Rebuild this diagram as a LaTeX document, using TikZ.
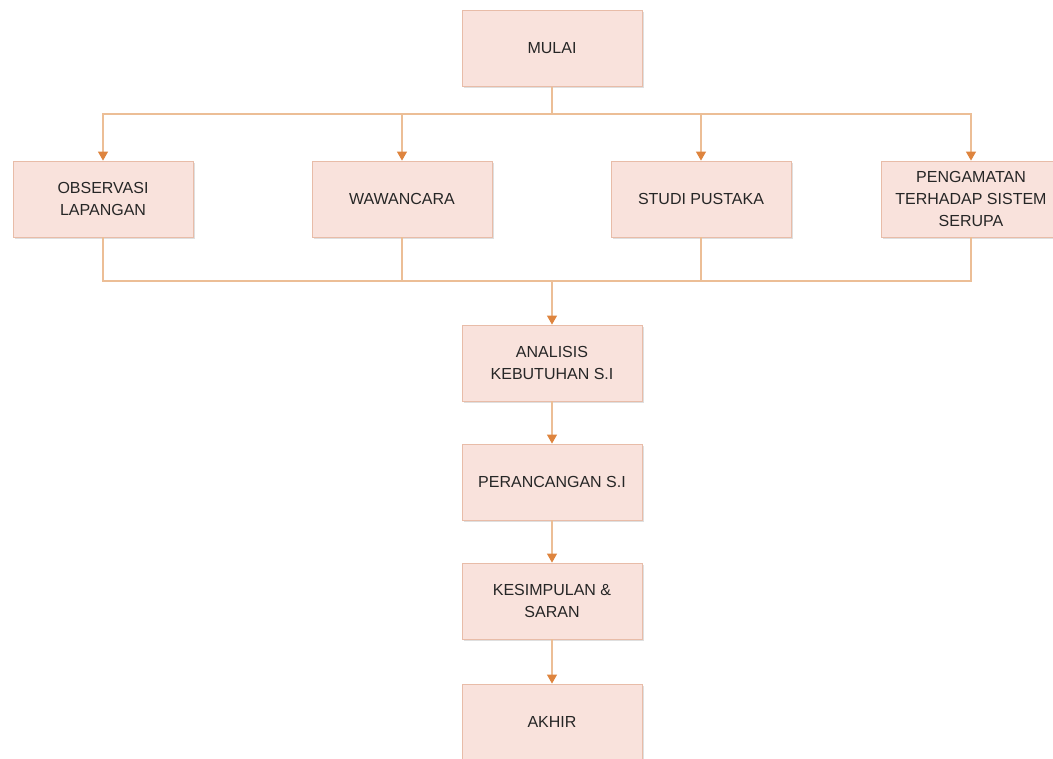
\documentclass[tikz,border=0pt]{standalone}
\usepackage{fontspec}
\setmainfont{Liberation Sans}
\usetikzlibrary{arrows.meta,shadows}
\definecolor{boxfill}{RGB}{249,226,220}
\definecolor{boxline}{RGB}{232,188,168}
\definecolor{conline}{RGB}{236,190,150}
\definecolor{tipcol}{RGB}{222,132,62}
\tikzset{
  stepbox/.style={draw=boxline, line width=0.8pt, fill=boxfill,
    minimum width=180pt, minimum height=76pt, align=center, inner sep=2pt,
    font=\fontsize{16}{22}\selectfont, text=black!85,
    drop shadow={opacity=0.25, shadow xshift=1.5pt, shadow yshift=-2pt}},
  conn/.style={draw=conline, line width=1.1pt},
  arr/.style={conn, -{Triangle[width=10pt,length=9pt,color=tipcol]}}
}
\begin{document}
\begin{tikzpicture}[x=1pt,y=-1pt]
\useasboundingbox (0,0) rectangle (1053,759);
\node[stepbox] (mulai) at (552,48.5) {MULAI};
\node[stepbox] (obs) at (103,199) {OBSERVASI\\LAPANGAN};
\node[stepbox] (waw) at (402,199) {WAWANCARA};
\node[stepbox] (stu) at (701,199) {STUDI PUSTAKA};
\node[stepbox] (pen) at (971,199) {PENGAMATAN\\TERHADAP SISTEM\\SERUPA};
\node[stepbox] (ana) at (552,363) {ANALISIS\\KEBUTUHAN S.I};
\node[stepbox] (per) at (552,482) {PERANCANGAN S.I};
\node[stepbox] (kes) at (552,601) {KESIMPULAN \&\\SARAN};
\node[stepbox] (akh) at (552,722) {AKHIR};
\coordinate (tj) at (552,114);
\coordinate (bj) at (552,281);
\draw[conn] (mulai.south) -- (tj);
\draw[arr] (tj) -| (obs.north);
\draw[arr] (tj) -| (waw.north);
\draw[arr] (tj) -| (stu.north);
\draw[arr] (tj) -| (pen.north);
\draw[conn] (obs.south) |- (bj);
\draw[conn] (waw.south) |- (bj);
\draw[conn] (stu.south) |- (bj);
\draw[conn] (pen.south) |- (bj);
\draw[arr] (bj) -- (ana.north);
\draw[arr] (ana.south) -- (per.north);
\draw[arr] (per.south) -- (kes.north);
\draw[arr] (kes.south) -- (akh.north);
\end{tikzpicture}
\end{document}
